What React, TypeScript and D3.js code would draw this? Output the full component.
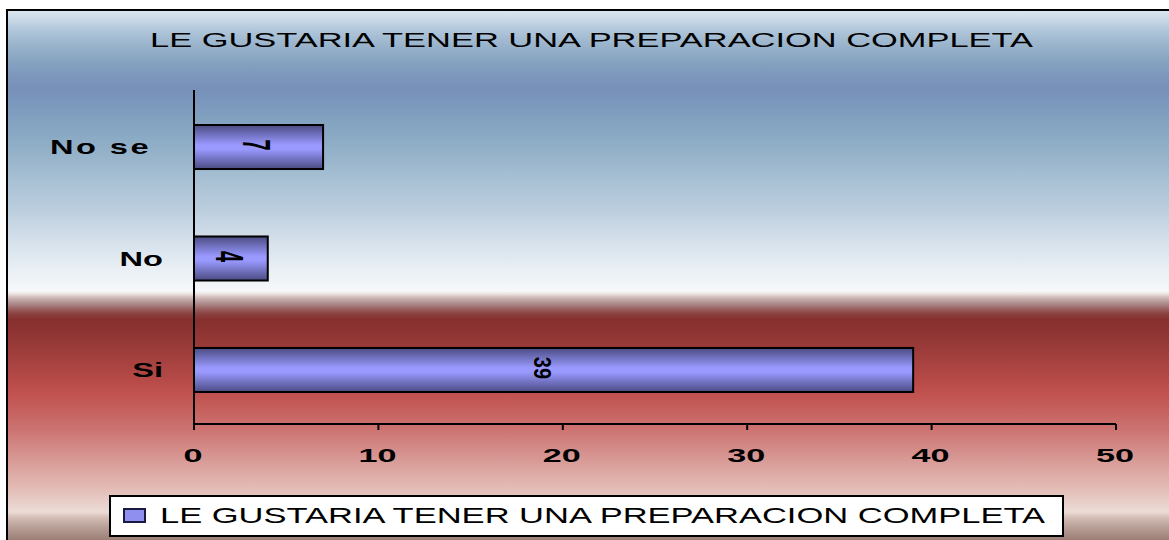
import React from "react";
import * as d3 from "d3";

// Survey answers: "Would you like to have a complete preparation?"
const categories = ["No se", "No", "Si"];
const counts = [7, 4, 39];
const xTicks = [0, 10, 20, 30, 40, 50];
const titleText = "LE GUSTARIA TENER UNA PREPARACION COMPLETA";
const seriesName = "LE GUSTARIA TENER UNA PREPARACION COMPLETA";

const W = 1169;
const H = 540;
const FONT = "'Liberation Sans', Arial, Helvetica, sans-serif";

// background band colours, top to bottom (y in px)
const bgStops: [number, string][] = [
  [10, "#dce8f2"],
  [20, "#c8d8e6"],
  [30, "#b0c6da"],
  [45, "#9ab4cc"],
  [60, "#87a4c0"],
  [75, "#7d98bc"],
  [88, "#7790b8"],
  [100, "#7a96bc"],
  [120, "#82a2c0"],
  [150, "#92b0c8"],
  [180, "#a8c0d4"],
  [210, "#bccede"],
  [240, "#d4e0ea"],
  [265, "#e6edf3"],
  [291, "#f6f8fa"],
  [294, "#ece2e0"],
  [298, "#cbb5b3"],
  [303, "#b09090"],
  [309, "#9a6060"],
  [314, "#8a4040"],
  [320, "#86302e"],
  [345, "#983a38"],
  [392, "#c0504d"],
  [430, "#cc7472"],
  [460, "#d89a96"],
  [490, "#e4beb8"],
  [512, "#ecdcd6"],
  [518, "#d2bcb4"],
  [527, "#b8a098"],
  [540, "#9c7e76"],
];

export default function App() {
  const x = d3.scaleLinear().domain([0, 50]).range([194, 1116]);
  const y = d3
    .scaleBand<string>()
    .domain(categories)
    .range([90, 427])
    .paddingInner(0.605)
    .paddingOuter(0.314);

  const axisY = 424;
  const bw = y.bandwidth();

  return (
    <svg
      width={W}
      height={H}
      style={{ position: "absolute", left: 0, top: 0, display: "block" }}
      fontFamily={FONT}
    >
      <defs>
        <linearGradient id="bg" gradientUnits="userSpaceOnUse" x1={0} y1={0} x2={0} y2={H}>
          {bgStops.map(([py, c], i) => (
            <stop key={i} offset={py / H} stopColor={c} />
          ))}
        </linearGradient>
        <linearGradient id="barFill" x1={0} y1={0} x2={0} y2={1}>
          <stop offset={0} stopColor="#4b4b82" />
          <stop offset={0.45} stopColor="#9999ff" />
          <stop offset={0.55} stopColor="#9999ff" />
          <stop offset={1} stopColor="#4b4b82" />
        </linearGradient>
      </defs>

      <rect x={0} y={0} width={W} height={H} fill="#ffffff" />
      <rect x={7} y={10} width={W + 20} height={H + 20} fill="url(#bg)" stroke="#000" strokeWidth={2} />

      {/* title */}
      <text
        x={150}
        y={47}
        fontSize={20}
        textLength={883}
        lengthAdjust="spacingAndGlyphs"
        fill="#000"
      >
        {titleText}
      </text>

      {/* bars */}
      {categories.map((c, i) => {
        const y0 = y(c) as number;
        return (
          <rect
            key={c}
            x={x(0)}
            y={y0}
            width={x(counts[i]) - x(0)}
            height={bw}
            fill="url(#barFill)"
            stroke="#000"
            strokeWidth={2}
          />
        );
      })}

      {/* value labels, rotated; single digits are drawn wider */}
      {categories.map((c, i) => {
        const wide = counts[i] < 10;
        const cx = (x(0) + x(counts[i])) / 2 - (wide ? 2 : 11);
        const cy = (y(c) as number) + bw / 2 - 2;
        return (
          <text
            key={c}
            transform={`translate(${cx},${cy}) scale(${wide ? 1.9 : 1.2},1) rotate(90)`}
            textAnchor="middle"
            dominantBaseline="central"
            fontSize={20}
            fontWeight="bold"
            fill="#000"
          >
            {counts[i]}
          </text>
        );
      })}

      {/* axes */}
      <line x1={x(0)} x2={x(0)} y1={90} y2={axisY + 1} stroke="#000" strokeWidth={2} />
      <line x1={x(0) - 1} x2={x(50)} y1={axisY} y2={axisY} stroke="#000" strokeWidth={2} />
      {xTicks.map((t) => (
        <g key={t}>
          <line x1={x(t)} x2={x(t)} y1={axisY} y2={axisY + 6} stroke="#000" strokeWidth={2} />
          <text
            transform={`translate(${x(t) - 1},462) scale(1.9,1)`}
            textAnchor="middle"
            fontSize={18}
            fontWeight="bold"
            fill="#000"
          >
            {t}
          </text>
        </g>
      ))}

      {/* category labels */}
      {categories.map((c) => (
        <text
          key={c}
          transform={`translate(${c.length > 2 ? 151 : 163},${(y(c) as number) + bw / 2 + 7}) scale(1.63,1)`}
          textAnchor="end"
          fontSize={20}
          fontWeight="bold"
          letterSpacing={c.length > 2 ? 1.5 : 0}
          fill="#000"
        >
          {c}
        </text>
      ))}

      {/* legend */}
      <rect x={110} y={496} width={953} height={40} fill="#ffffff" stroke="#000" strokeWidth={2} />
      <rect x={124} y={509} width={21} height={13} fill="#8f8ff0" stroke="#1a1a40" strokeWidth={2} />
      <text
        x={160}
        y={523}
        fontSize={22}
        textLength={885}
        lengthAdjust="spacingAndGlyphs"
        fill="#000"
      >
        {seriesName}
      </text>
    </svg>
  );
}
